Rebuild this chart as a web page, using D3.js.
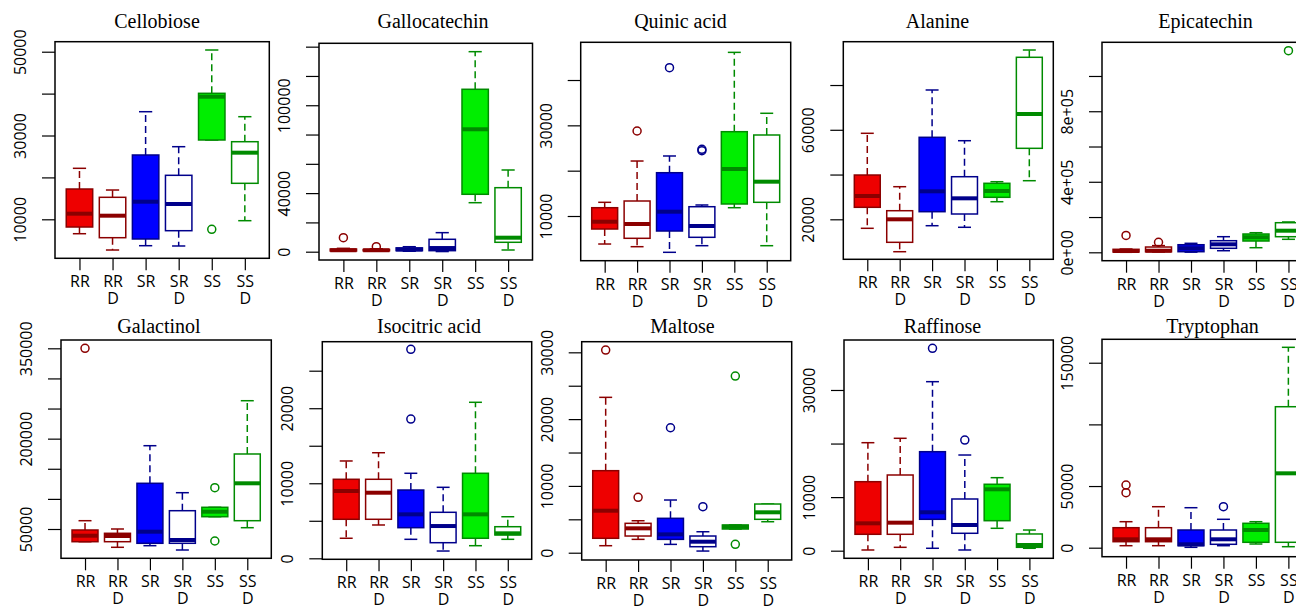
<!DOCTYPE html>
<html>
<head>
<meta charset="utf-8">
<script src="https://cdn.jsdelivr.net/npm/d3@7"></script>
<style>
  body { margin: 0; background: #fff; }
  svg { display: block; }
</style>
</head>
<body>
<div id="chart"></div>
<script>

// data: five-number summaries [lower whisker, Q1, median, Q3, upper whisker] per group
const groups = ['RR', 'RR D', 'SR', 'SR D', 'SS', 'SS D'];
const metabolites = ['Cellobiose', 'Gallocatechin', 'Quinic acid', 'Alanine', 'Epicatechin',
                     'Galactinol', 'Isocitric acid', 'Maltose', 'Raffinose', 'Tryptophan'];

const cellobiose = [[6560, 8160, 11340, 17230, 22170], [2670, 5610, 10860, 15250, 16990],
    [3700, 5300, 14200, 25350, 35680], [3630, 7280, 13650, 20500, 27330],
    [28930, 28930, 39260, 40070, 50410], [9670, 18590, 25900, 28520, 34490]];
const cellobioseOut = [[], [], [], [], [7610], []];

const gallocatechin = [[300, 500, 1000, 1800, 2300], [300, 600, 1000, 1500, 2000],
    [300, 700, 1500, 2600, 3400], [100, 700, 2500, 8470, 13000],
    [33460, 39200, 83590, 110900, 136580], [1160, 6420, 9560, 43710, 55790]];
const gallocatechinOut = [[9560], [3400], [], [], [], []];

const quinic = [[3820, 7130, 8740, 11830, 13020], [3230, 5080, 8240, 13310, 22130],
    [1990, 6690, 10950, 19550, 23240], [3450, 5300, 7790, 12050, 12430],
    [11830, 12650, 20370, 28600, 46100], [3450, 13020, 17570, 27870, 32660]];
const quinicOut = [[], [28750], [42720], [24400, 24700], [], []];

const alanine = [[15980, 25360, 30410, 39790, 58430], [5520, 9720, 20000, 23840, 34570],
    [17140, 23400, 32510, 56640, 77780], [16430, 22370, 29380, 39030, 55120],
    [27860, 29830, 32650, 36090, 36800], [37250, 51720, 67050, 92390, 95650]];
const alanineOut = [[], [], [], [], [], []];

const epicatechin = [[0, 1700, 7400, 17000, 18700], [2000, 3000, 9000, 30000, 38000],
    [1000, 3400, 22700, 43000, 51000], [9000, 22700, 45400, 65800, 88500],
    [26100, 64100, 85100, 103800, 111200], [73700, 88500, 122500, 167900, 172000]];
const epicatechinOut = [[96000], [57000], [], [], [], [1143500]];

const galactinol = [[28910, 28910, 38880, 48340, 63780], [19620, 28910, 38380, 42860, 50000],
    [22280, 26260, 45520, 125880, 188300], [15130, 26260, 31740, 80380, 110270],
    [70420, 70420, 78720, 86020, 86020], [52160, 63780, 125880, 174530, 263000]];
const galactinolOut = [[350000], [], [], [], [118570, 30080], []];

const isocitric = [[2670, 5200, 8970, 10530, 12970], [4440, 5200, 8740, 10530, 14070],
    [2530, 4080, 5860, 9100, 11330], [970, 2080, 4300, 6130, 9460],
    [1680, 2670, 5860, 11330, 20790], [2530, 3110, 3330, 4210, 5540]];
const isocitricOut = [[], [], [18560, 27850], [], [], []];

const maltose = [[1050, 2160, 6290, 12280, 23260], [2000, 2500, 3650, 4400, 4790],
    [1250, 2000, 2750, 5150, 7890], [250, 900, 1650, 2500, 3140],
    [3550, 3550, 3900, 4150, 4150], [4640, 5000, 6050, 7290, 7290]];
const maltoseOut = [[30340], [8290], [18710], [6890], [26450, 1250], []];

const raffinose = [[130, 3060, 5110, 12880, 20160], [630, 3060, 5230, 14130, 20980],
    [450, 5860, 7170, 18480, 31550], [130, 3250, 4800, 9650, 17860],
    [4180, 5600, 11460, 12400, 13630], [450, 630, 1060, 3120, 3860]];
const raffinoseOut = [[], [], [37780], [20660], [], []];

const tryptophan = [[1620, 4870, 6810, 16220, 21080], [1620, 4870, 6810, 16220, 33240],
    [300, 1620, 2760, 14350, 32430], [1620, 2760, 6810, 14350, 23030],
    [3000, 4380, 14350, 19780, 21080], [810, 4380, 60320, 114330, 162500]];
const tryptophanOut = [[50840, 44600], [], [], [33240], [], []];

const boxStats = [cellobiose, gallocatechin, quinic, alanine, epicatechin,
                  galactinol, isocitric, maltose, raffinose, tryptophan];
const outliers = [cellobioseOut, gallocatechinOut, quinicOut, alanineOut, epicatechinOut,
                  galactinolOut, isocitricOut, maltoseOut, raffinoseOut, tryptophanOut];

// y ranges (value at bottom and top of each frame), ticks and labelled ticks
const yDomains = [[692, 52390], [-5670, 142300], [140, 48320], [2130, 99360], [-47600, 1191000],
                  [1350, 363800], [-133, 28865], [-1090, 31590], [-1420, 39330], [-7300, 169000]];
const yTicks = [
    [10000, 20000, 30000, 40000, 50000],
    [0, 20000, 40000, 60000, 80000, 100000, 120000, 140000],
    [10000, 20000, 30000, 40000],
    [20000, 40000, 60000, 80000],
    [0, 200000, 400000, 600000, 800000, 1000000],
    [50000, 100000, 150000, 200000, 250000, 300000, 350000],
    [0, 5000, 10000, 15000, 20000, 25000],
    [0, 5000, 10000, 15000, 20000, 25000, 30000],
    [0, 10000, 20000, 30000],
    [0, 50000, 100000, 150000]];
const yLabels = [
    ['10000', '30000', '50000'],
    ['0', '40000', '100000'],
    ['10000', '30000'],
    ['20000', '60000'],
    ['0e+00', '4e+05', '8e+05'],
    ['50000', '200000', '350000'],
    ['0', '10000', '20000'],
    ['0', '10000', '20000', '30000'],
    ['0', '10000', '30000'],
    ['0', '50000', '150000']];

// layout: plot frame [left, right, top, bottom] and title position of each panel
const frames = [
    [55, 269.3, 41.7, 258.3], [319, 532.5, 43.3, 260], [580.7, 790.7, 42.3, 260.7],
    [843.3, 1053.3, 41.7, 259.3], [1102, 1312.5, 42.3, 260.7],
    [61, 271.3, 340, 558.3], [322.3, 531.7, 341.7, 559.3], [581.7, 791.7, 341.7, 560],
    [844, 1053.3, 340, 558.3], [1102, 1312.4, 339.3, 556.7]];
const titlePos = [[157, 27.5], [433, 27.5], [680.5, 27.5], [937.5, 27.5], [1205.5, 27.5],
                  [159, 333], [429, 333], [682.5, 333], [942.5, 333], [1212.5, 333]];

const fills = ['#ee0000', '#ffffff', '#0000ff', '#ffffff', '#00ee00', '#ffffff'];
const darks = ['#8b0000', '#8b0000', '#00008b', '#00008b', '#008b00', '#008b00'];

const svg = d3.select('#chart').append('svg')
    .attr('width', 1296)
    .attr('height', 608);

frames.forEach((f, i) => {
    const [left, right, top, bottom] = f;
    const xScale = d3.scaleLinear().domain([0.26, 6.74]).range([left, right]);
    const yScale = d3.scaleLinear().domain(yDomains[i]).range([bottom, top]);
    const g = svg.append('g');

    // boxes
    boxStats[i].forEach((s, j) => {
        const [lo, q1, med, q3, hi] = s;
        const cx = xScale(j + 1);
        const x0 = xScale(j + 0.6), x1 = xScale(j + 1.4);
        const cap = (x1 - x0) / 4;
        const bg = g.append('g').attr('stroke', darks[j]).attr('stroke-width', 1.5);

        bg.append('line').attr('x1', cx).attr('x2', cx)
            .attr('y1', yScale(q3)).attr('y2', yScale(hi))
            .attr('stroke-dasharray', '7,4');
        bg.append('line').attr('x1', cx).attr('x2', cx)
            .attr('y1', yScale(q1)).attr('y2', yScale(lo))
            .attr('stroke-dasharray', '7,4');
        [lo, hi].forEach(v => {
            bg.append('line').attr('x1', cx - cap).attr('x2', cx + cap)
                .attr('y1', yScale(v)).attr('y2', yScale(v));
        });
        bg.append('rect')
            .attr('x', x0).attr('width', x1 - x0)
            .attr('y', yScale(q3)).attr('height', Math.max(0.5, yScale(q1) - yScale(q3)))
            .attr('fill', fills[j]);
        bg.append('line').attr('x1', x0).attr('x2', x1)
            .attr('y1', yScale(med)).attr('y2', yScale(med))
            .attr('stroke-width', 4);
        bg.selectAll('circle')
            .data(outliers[i][j])
            .join('circle')
            .attr('cx', cx).attr('cy', d => yScale(d))
            .attr('r', 4).attr('fill', 'none');
    });

    // y axis
    const yAxis = d3.axisLeft(yScale)
        .tickValues(yTicks[i])
        .tickSize(13)
        .tickSizeOuter(0)
        .tickFormat(v => yLabels[i].find(l => +l === v) || '');
    const ya = g.append('g')
        .attr('transform', 'translate(' + left + ',0)')
        .call(yAxis);
    ya.select('.domain').remove();
    ya.selectAll('line').attr('stroke-width', 1.2);
    ya.selectAll('text')
        .attr('x', 0).attr('dy', null)
        .attr('transform', 'translate(-29,0) rotate(-90)')
        .attr('text-anchor', 'middle')
        .attr('font-family', '"Open Sans", sans-serif')
        .attr('font-size', 16)
        .attr('fill', '#000');

    // x axis
    const xAxis = d3.axisBottom(xScale)
        .tickValues([1, 2, 3, 4, 5, 6])
        .tickSize(12)
        .tickSizeOuter(0)
        .tickFormat('');
    const xa = g.append('g')
        .attr('transform', 'translate(0,' + bottom + ')')
        .call(xAxis);
    xa.select('.domain').remove();
    xa.selectAll('line').attr('stroke-width', 1.2);
    xa.selectAll('.tick').append('text')
        .attr('text-anchor', 'middle')
        .attr('font-family', '"Open Sans", sans-serif')
        .attr('font-size', 16)
        .attr('fill', '#000')
        .each(function(d) {
            groups[d - 1].split(' ').forEach((part, k) => {
                d3.select(this).append('tspan')
                    .attr('x', 0)
                    .attr('y', 29 + k * 17)
                    .text(part);
            });
        });

    // frame and title
    g.append('rect')
        .attr('x', left).attr('y', top)
        .attr('width', right - left).attr('height', bottom - top)
        .attr('fill', 'none').attr('stroke', '#000').attr('stroke-width', 1.5);

    g.append('text')
        .attr('x', titlePos[i][0]).attr('y', titlePos[i][1])
        .attr('text-anchor', 'middle')
        .attr('font-family', '"Liberation Serif", serif')
        .attr('font-size', 20)
        .text(metabolites[i]);
});

</script>
</body>
</html>
